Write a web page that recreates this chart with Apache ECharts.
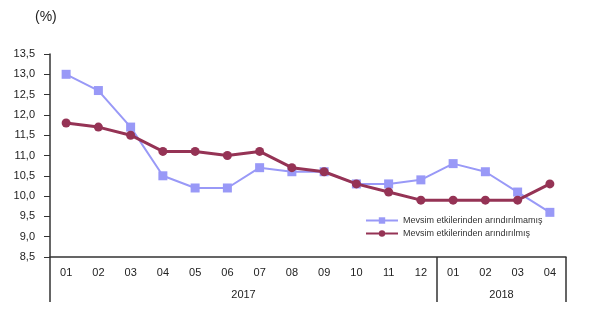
<!DOCTYPE html>
<html>
<head>
<meta charset="utf-8">
<script src="https://cdn.jsdelivr.net/npm/echarts@6/dist/echarts.min.js"></script>
<style>
  html, body { margin: 0; padding: 0; background: #fff; }
  #chart { width: 605px; height: 325px; }
</style>
</head>
<body>
<div id="chart"></div>
<script>
// Monthly periods (2017-01 .. 2018-04)
const months = ['01','02','03','04','05','06','07','08','09','10','11','12','01','02','03','04'];
const yearLabels = ['2017', '2018'];
// Unemployment rate, %
const notAdjusted = [13.0, 12.6, 11.7, 10.5, 10.2, 10.2, 10.7, 10.6, 10.6, 10.3, 10.3, 10.4, 10.8, 10.6, 10.1, 9.6];
const adjusted    = [11.8, 11.7, 11.5, 11.1, 11.1, 11.0, 11.1, 10.7, 10.6, 10.3, 10.1, 9.9, 9.9, 9.9, 9.9, 10.3];
const seriesNames = ['Mevsim etkilerinden arındırılmamış', 'Mevsim etkilerinden arındırılmış'];

const FONT = 'Liberation Sans, Arial, sans-serif';
const chart = echarts.init(document.getElementById('chart'));

chart.setOption({
  animation: false,
  backgroundColor: '#ffffff',
  textStyle: { fontFamily: FONT },
  grid: { left: 50, right: 39, top: 54, bottom: 68, containLabel: false },
  graphic: [{
    type: 'text', left: 35, top: 10,
    style: { text: '(%)', font: '14px ' + FONT, fill: '#222' }
  }],
  legend: {
    orient: 'vertical', left: 365, top: 216, itemGap: 4, padding: 0,
    itemWidth: 32, itemHeight: 8,
    textStyle: { fontSize: 9, color: '#333', fontFamily: FONT },
    data: seriesNames
  },
  xAxis: [{
    type: 'category', data: months, boundaryGap: true,
    axisLine: { lineStyle: { color: '#333', width: 1.5 } },
    axisTick: { show: false },
    axisLabel: { color: '#222', fontSize: 11, margin: 10, interval: 0 },
    splitLine: { show: false }
  }, {
    type: 'value', min: 0, max: 16, position: 'bottom',
    axisLine: { show: false },
    axisTick: { show: true, customValues: [0, 12, 16], length: 45, lineStyle: { color: '#333', width: 1.5 } },
    axisLabel: {
      customValues: [6, 14], margin: 32, color: '#222', fontSize: 11,
      formatter: v => (v === 6 ? yearLabels[0] : yearLabels[1])
    },
    splitLine: { show: false }
  }],
  yAxis: {
    type: 'value', min: 8.5, max: 13.5, interval: 0.5,
    axisLine: { show: true, lineStyle: { color: '#333', width: 1.5 } },
    axisTick: { show: true, length: 6, lineStyle: { color: '#333' } },
    axisLabel: { color: '#222', fontSize: 11, margin: 15, formatter: v => v.toFixed(1).replace('.', ',') },
    splitLine: { show: false }
  },
  series: [{
    name: seriesNames[0], type: 'line', data: notAdjusted,
    symbol: 'rect', symbolSize: 9,
    lineStyle: { color: '#9999f7', width: 2 },
    itemStyle: { color: '#9999f7' },
    z: 2
  }, {
    name: seriesNames[1], type: 'line', data: adjusted,
    symbol: 'circle', symbolSize: 9,
    lineStyle: { color: '#953355', width: 3 },
    itemStyle: { color: '#953355' },
    z: 3
  }]
});
</script>
</body>
</html>
